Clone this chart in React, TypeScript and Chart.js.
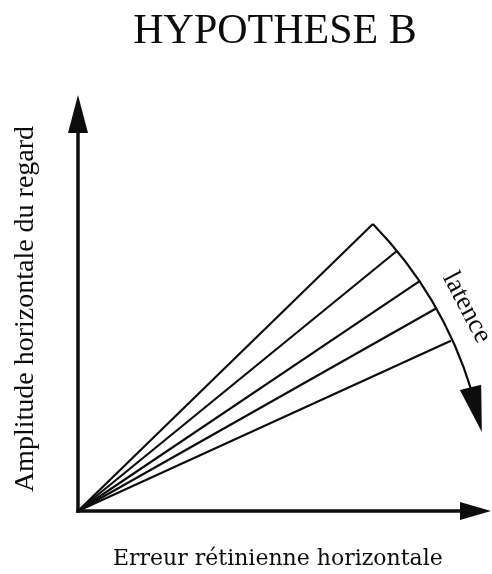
import React, { useEffect, useRef } from "react";
import { Chart, registerables } from "chart.js";

Chart.register(...registerables);

// ---- Data (schematic units, axes run 0..100) ----
const titleText = "HYPOTHESE B";
const xAxisLabel = "Erreur rétinienne horizontale";
const yAxisLabel = "Amplitude horizontale du regard";
const arcLabel = "latence";

// end points of the five gain lines (all start at the origin)
const lineEndX = [71.4, 77.2, 82.8, 86.9, 90.3];
const lineEndY = [69.0, 62.5, 55.3, 48.8, 40.9];
// tip of the curved "latence" arrow
const latencyTipX = 97.8;
const latencyTipY = 19.0;

const INK = "#0d0d0d";

const diagramPlugin = {
  id: "diagram",
  afterDatasetsDraw(chart: any) {
    const ctx: CanvasRenderingContext2D = chart.ctx;
    const ca = chart.chartArea;
    const xs = chart.scales.x;
    const ys = chart.scales.y;
    const ox = xs.getPixelForValue(0);
    const oy = ys.getPixelForValue(0);

    ctx.save();
    ctx.strokeStyle = INK;
    ctx.fillStyle = INK;
    ctx.lineCap = "butt";

    // ---- axes with arrow heads ----
    ctx.lineWidth = 3.5;
    ctx.beginPath();
    ctx.moveTo(ox, oy + 1.75);
    ctx.lineTo(ox, ca.top + 30);
    ctx.stroke();
    ctx.beginPath();
    ctx.moveTo(ox, ca.top);
    ctx.lineTo(ox - 10, ca.top + 38);
    ctx.lineTo(ox + 10, ca.top + 38);
    ctx.closePath();
    ctx.fill();

    ctx.beginPath();
    ctx.moveTo(ox - 1.75, oy);
    ctx.lineTo(ca.right - 25, oy);
    ctx.stroke();
    ctx.beginPath();
    ctx.moveTo(ca.right, oy);
    ctx.lineTo(ca.right - 31, oy - 9);
    ctx.lineTo(ca.right - 31, oy + 9);
    ctx.closePath();
    ctx.fill();

    // ---- latency arc (circle centred on origin through line end points) ----
    const p0x = xs.getPixelForValue(lineEndX[0]);
    const p0y = ys.getPixelForValue(lineEndY[0]);
    const R = Math.hypot(p0x - ox, p0y - oy);
    const a0 = Math.atan2(p0y - oy, p0x - ox);
    const tx = xs.getPixelForValue(latencyTipX);
    const ty = ys.getPixelForValue(latencyTipY);
    const aTip = Math.atan2(ty - oy, tx - ox);
    const headLen = 46;
    const headHalf = 11;
    const aBase = aTip - 2 * Math.asin(headLen / (2 * R));
    ctx.lineWidth = 2.2;
    ctx.beginPath();
    ctx.arc(ox, oy, R, a0, aBase + 0.01, false);
    ctx.stroke();
    const bx = ox + R * Math.cos(aBase);
    const by = oy + R * Math.sin(aBase);
    const tipX = ox + R * Math.cos(aTip);
    const tipY = oy + R * Math.sin(aTip);
    const dx = tipX - bx;
    const dy = tipY - by;
    const len = Math.hypot(dx, dy);
    const nx = -dy / len;
    const ny = dx / len;
    ctx.beginPath();
    ctx.moveTo(tipX, tipY);
    ctx.lineTo(bx + nx * headHalf, by + ny * headHalf);
    ctx.lineTo(bx - nx * headHalf, by - ny * headHalf);
    ctx.closePath();
    ctx.fill();

    // ---- "latence" label along the arc ----
    const aMid = (a0 + aTip) / 2;
    const rl = R + 20;
    ctx.save();
    ctx.translate(ox + rl * Math.cos(aMid), oy + rl * Math.sin(aMid));
    ctx.rotate(aMid + Math.PI / 2);
    ctx.font = "27px 'Liberation Serif', 'Times New Roman', serif";
    ctx.textAlign = "center";
    ctx.textBaseline = "alphabetic";
    ctx.fillText(arcLabel, 0, 0);
    ctx.restore();

    // ---- title ----
    ctx.font = "42px 'Liberation Serif', 'Times New Roman', serif";
    ctx.textAlign = "center";
    ctx.textBaseline = "alphabetic";
    ctx.fillText(titleText, 275, 43);

    // ---- x axis label ----
    ctx.font = "22px 'DejaVu Serif', serif";
    ctx.textAlign = "left";
    ctx.fillText(xAxisLabel, 113, 565);

    // ---- y axis label ----
    ctx.save();
    ctx.translate(33, 309);
    ctx.rotate(-Math.PI / 2);
    ctx.font = "28px 'Liberation Serif', 'Times New Roman', serif";
    ctx.textAlign = "center";
    ctx.textBaseline = "alphabetic";
    ctx.fillText(yAxisLabel, 0, 0);
    ctx.restore();

    ctx.restore();
  },
};

export default function App() {
  const canvasRef = useRef<HTMLCanvasElement | null>(null);

  useEffect(() => {
    const canvas = canvasRef.current;
    if (!canvas) return;
    const datasets = lineEndX.map((x, i) => ({
      label: `ligne ${i + 1}`,
      data: [
        { x: 0, y: 0 },
        { x, y: lineEndY[i] },
      ],
      showLine: true,
      borderColor: INK,
      borderWidth: 2.2,
      pointRadius: 0,
      pointHoverRadius: 0,
      fill: false,
      clip: false as any,
    }));
    const chart = new Chart(canvas, {
      type: "scatter",
      data: { datasets },
      options: {
        responsive: false,
        animation: false,
        devicePixelRatio: 1,
        layout: { padding: { left: 78, right: 1, top: 95, bottom: 63 } },
        plugins: {
          legend: { display: false },
          tooltip: { enabled: false },
          title: { display: false },
        },
        events: [],
        scales: {
          x: { type: "linear", min: 0, max: 100, display: false },
          y: { type: "linear", min: 0, max: 100, display: false },
        },
      },
      plugins: [diagramPlugin],
    });
    return () => chart.destroy();
  }, []);

  return (
    <div style={{ position: "absolute", left: 0, top: 0, width: 492, height: 574, background: "#fff" }}>
      <canvas ref={canvasRef} width={492} height={574} style={{ display: "block" }} />
    </div>
  );
}
